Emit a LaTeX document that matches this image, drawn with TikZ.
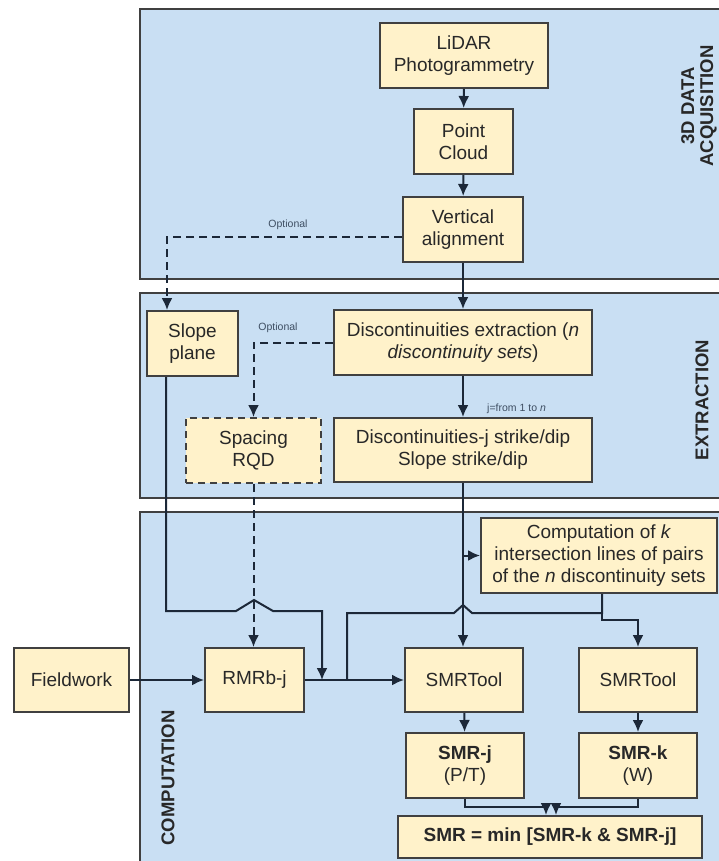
\documentclass[tikz,border=0pt]{standalone}
\usepackage{fontspec}
\setmainfont{Liberation Sans}
\usetikzlibrary{arrows.meta}
\newcommand{\boxFont}{\fontsize{19}{22}\selectfont}
\tikzstyle{chart} = [x = 1pt, y = -1pt]
\definecolor{panelColor}{RGB}{201,223,243}
\definecolor{boxColor}{RGB}{255,242,202}
\definecolor{lineColor}{RGB}{28,40,56}
\definecolor{textColor}{RGB}{40,40,40}
\definecolor{noteColor}{RGB}{62,78,98}
\tikzstyle{panelStyle} = [draw=black!75, fill=panelColor, line width=2pt]
\tikzstyle{boxStyle} = [draw=black!75, fill=boxColor, line width=2pt, align=center, inner sep=0pt, font=\boxFont, text=textColor]
\tikzstyle{dashedBoxStyle} = [boxStyle, dash pattern=on 7pt off 5pt]
\tikzstyle{plainLine} = [lineColor, line width=2pt, line join=miter]
\tikzstyle{arrowLine} = [plainLine, -{Latex[length=12pt, width=11pt]}]
\tikzstyle{optionalLine} = [arrowLine, dash pattern=on 8pt off 5pt]
\tikzstyle{noteText} = [font=\fontsize{10.5}{12}\selectfont, text=noteColor, inner sep=0pt]
\tikzstyle{panelText} = [font=\fontsize{18.5}{19}\selectfont\bfseries, text=textColor, rotate=90, align=center, inner sep=0pt]
\newcommand{\stagePanel}[4]{\filldraw [panelStyle] (#1, #2) rectangle (#3, #4);}
\newcommand{\flowBox}[6]{\node [boxStyle, minimum width = #4pt, minimum height = #5pt] (#1) at (#2, #3) {#6};}
\newcommand{\optionalBox}[6]{\node [dashedBoxStyle, minimum width = #4pt, minimum height = #5pt] (#1) at (#2, #3) {#6};}

\begin{document}
\begin{tikzpicture}[chart]
  \useasboundingbox (0, 0) rectangle (719, 861);
  \clip (0, 0) rectangle (719, 861);

  % stages
  \stagePanel{140}{9}{730}{279}
  \stagePanel{140}{293}{730}{498}
  \stagePanel{140}{512}{730}{875}
  \node [panelText] (acqLabel) at (699, 106) {3D DATA\\ACQUISITION};
  \node [panelText] (extLabel) at (702, 400) {EXTRACTION};
  \node [panelText] (compLabel) at (168, 778) {COMPUTATION};

  % 3D data acquisition
  \flowBox{lidar}{464}{55.5}{168}{65}{LiDAR\\Photogrammetry}
  \flowBox{cloud}{463.5}{141.5}{99}{65}{Point\\Cloud}
  \flowBox{align}{463}{229.5}{120}{65}{Vertical\\alignment}

  % extraction
  \flowBox{slope}{192.5}{343.5}{91}{65}{Slope\\plane}
  \flowBox{extract}{463}{342.5}{258}{65}{Discontinuities extraction (\textit{n}\\\textit{discontinuity sets})}
  \optionalBox{spacing}{253.5}{450.5}{135}{65}{Spacing\\RQD}
  \flowBox{discj}{463}{450}{258}{64}{Discontinuities-j strike/dip\\Slope strike/dip}

  % computation
  \flowBox{compute}{599}{555.5}{236}{75}{Computation of \textit{k}\\intersection lines of pairs\\of the \textit{n} discontinuity sets}
  \flowBox{field}{71.5}{680}{115}{64}{Fieldwork}
  \flowBox{rmr}{254.5}{680}{99}{64}{RMRb-j}
  \flowBox{toolj}{464}{680}{118}{64}{SMRTool}
  \flowBox{toolk}{638}{680}{118}{64}{SMRTool}
  \flowBox{smrj}{465}{765.5}{118}{65}{\textbf{SMR-j}\\(P/T)}
  \flowBox{smrk}{638}{765.5}{118}{65}{\textbf{SMR-k}\\(W)}
  \flowBox{smrmin}{550}{837}{304}{42}{\textbf{SMR = min [SMR-k \& SMR-j]}}

  \coordinate (optSlope) at (167, 237);
  \coordinate (slopeTurn) at (166, 611);
  \coordinate (slopeJoin) at (322, 680);
  \coordinate (kSplit) at (602, 613);
  \coordinate (kJoin) at (347, 680);
  \coordinate (mergeJ) at (546, 807);
  \coordinate (mergeK) at (556, 807);

  \draw [arrowLine] (lidar) -- (cloud);
  \draw [arrowLine] (cloud) -- (align);
  \draw [arrowLine] (align) -- (extract);
  \draw [optionalLine] (align.west |- optSlope) -- (optSlope) -- (optSlope |- slope.north);
  \node [noteText] (optNoteA) at (288, 225) {Optional};
  \draw [optionalLine] (extract.west) -| (spacing.north);
  \node [noteText] (optNoteB) at (278, 328) {Optional};
  \draw [arrowLine] (extract) -- (discj);
  \node [noteText, anchor = west] (loopNote) at (487, 409) {j=from 1 to \textit{n}};

  \draw [arrowLine] (discj.south) -- (discj.south |- toolj.north);
  \draw [arrowLine] (discj.south |- compute.west) -- (compute.west);
  \draw [arrowLine] (slope.south -| slopeTurn) -- (slopeTurn) -- (236, 611) -- (254, 600) -- (273, 611) -- (slopeJoin |- slopeTurn) -- (slopeJoin);
  \draw [optionalLine] (spacing.south) -- (spacing.south |- rmr.north);
  \draw [plainLine] (compute.south -| kSplit) -- (kSplit) -- (472, 613) -- (463, 605) -- (454, 613) -- (kJoin |- kSplit) -- (kJoin);
  \draw [arrowLine] (kSplit) -- ++(0, 7) -| (toolk.north);

  \draw [arrowLine] (field) -- (rmr);
  \draw [arrowLine] (rmr) -- (toolj);
  \draw [arrowLine] (toolj) -- (smrj);
  \draw [arrowLine] (toolk) -- (smrk);
  \draw [arrowLine] (smrj.south) |- (mergeJ) -- (mergeJ |- smrmin.north);
  \draw [arrowLine] (smrk.south) |- (mergeK) -- (mergeK |- smrmin.north);
\end{tikzpicture}
\end{document}
